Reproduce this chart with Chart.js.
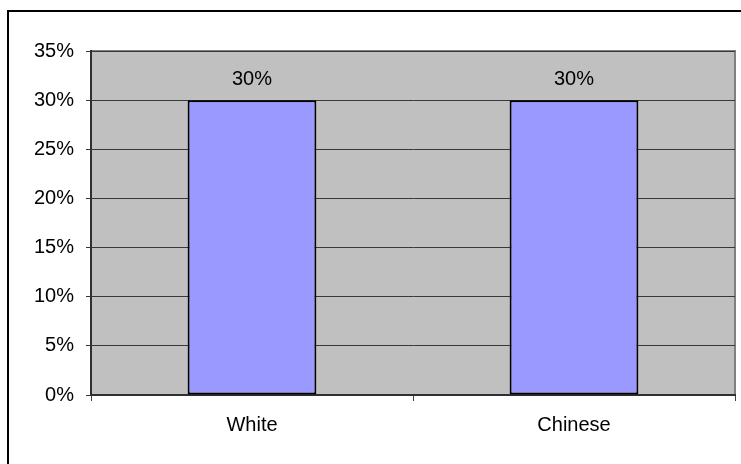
<!DOCTYPE html>
<html lang="en">
<head>
    <meta charset="UTF-8">
    <title>White vs Chinese</title>
    <style>
        body {
            margin: 0;
            background: #ffffff;
        }

        .wrap {
            width: 741px;
            height: 464px;
            position: relative;
            overflow: hidden;
        }

        /* outer chart frame, runs off the right and bottom edge */
        .frame {
            position: absolute;
            left: 7px;
            top: 10px;
            width: 760px;
            height: 480px;
            border: 2px solid #000;
        }

        canvas {
            position: absolute;
            left: 0;
            top: 0;
        }
    </style>
</head>
<body>
    <div class="wrap">
        <div class="frame"></div>
        <canvas id="chart" width="741" height="464"></canvas>
    </div>

    <script src="https://cdn.jsdelivr.net/npm/chart.js"></script>

    <script>
        // Data
        const categories = ['White', 'Chinese'];
        const shares = [30, 30];
        const yTicks = [0, 5, 10, 15, 20, 25, 30, 35];

        const FONT = { family: '"Liberation Sans", Arial, sans-serif', size: 20 };

        // gray plot background plus the lighter frame on top/right
        const plotArea = {
            id: 'plotArea',
            beforeDraw(chart) {
                const { ctx, chartArea: a } = chart;
                ctx.save();
                ctx.fillStyle = '#c0c0c0';
                ctx.fillRect(a.left, a.top, a.right - a.left, a.bottom - a.top);
                ctx.strokeStyle = '#808080';
                ctx.lineWidth = 2;
                ctx.beginPath();
                ctx.moveTo(a.left, a.top);
                ctx.lineTo(a.right, a.top);
                ctx.lineTo(a.right, a.bottom);
                ctx.stroke();
                ctx.restore();
            }
        };

        // "30%" above each bar
        const valueLabels = {
            id: 'valueLabels',
            afterDatasetsDraw(chart) {
                const { ctx } = chart;
                const meta = chart.getDatasetMeta(0);
                ctx.save();
                ctx.font = FONT.size + 'px ' + FONT.family;
                ctx.fillStyle = '#000';
                ctx.textAlign = 'center';
                ctx.textBaseline = 'middle';
                meta.data.forEach((bar, i) => {
                    ctx.fillText(shares[i] + '%', bar.x, bar.y - 21);
                });
                ctx.restore();
            }
        };

        new Chart(document.getElementById('chart').getContext('2d'), {
            type: 'bar',
            data: {
                labels: categories,
                datasets: [{
                    data: shares,
                    backgroundColor: '#9999ff',
                    borderColor: '#000000',
                    borderWidth: 2,
                    borderSkipped: false,
                    categoryPercentage: 1,
                    barPercentage: 0.4
                }]
            },
            options: {
                responsive: false,
                animation: false,
                devicePixelRatio: 1,
                layout: { padding: { left: 0, right: 6, top: 51, bottom: 0 } },
                plugins: {
                    legend: { display: false },
                    tooltip: { enabled: false }
                },
                scales: {
                    x: {
                        afterFit(scale) { scale.height = 69; },
                        grid: {
                            drawOnChartArea: false,
                            color: '#404040',
                            tickLength: 6
                        },
                        border: { color: '#303030', width: 2 },
                        ticks: { color: '#000', font: FONT, padding: 12 }
                    },
                    y: {
                        min: 0,
                        max: 35,
                        afterFit(scale) { scale.width = 91; },
                        afterBuildTicks(scale) {
                            scale.ticks = yTicks.map(v => ({ value: v }));
                        },
                        grid: {
                            color: '#383838',
                            lineWidth: 1,
                            tickLength: 5
                        },
                        border: { color: '#303030', width: 2 },
                        ticks: {
                            color: '#000',
                            font: FONT,
                            padding: 12,
                            callback: v => v + '%'
                        }
                    }
                }
            },
            plugins: [plotArea, valueLabels]
        });
    </script>
</body>
</html>
